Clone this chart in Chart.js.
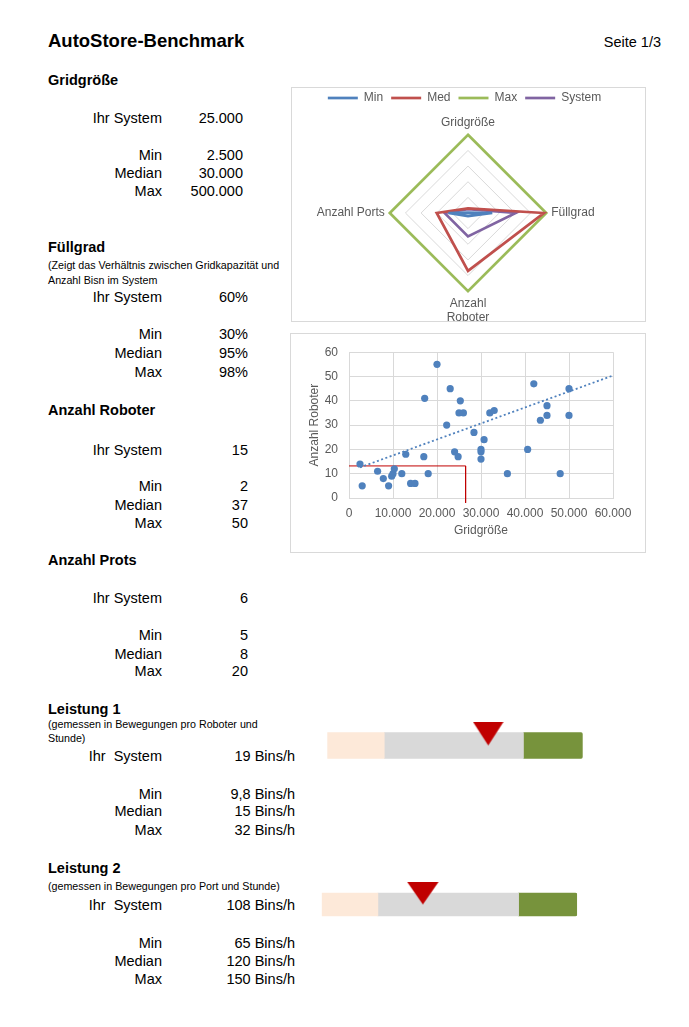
<!DOCTYPE html>
<html lang="de">
<head>
<meta charset="utf-8">
<title>AutoStore-Benchmark</title>
<script src="https://cdn.jsdelivr.net/npm/chart.js@4.4.1/dist/chart.umd.min.js"></script>
<style>
  html, body { margin: 0; padding: 0; background: #fff; }
  body { width: 689px; height: 1027px; position: relative; overflow: hidden;
         font-family: "Liberation Sans", Arial, sans-serif; color: #000; }
  .t { position: absolute; white-space: pre; font-size: 14.5px; line-height: 16px; }
  .h { font-weight: bold; left: 48px; }
  .s { font-size: 10.7px; line-height: 13px; left: 48px; }
  .l { left: 0; width: 162px; text-align: right; }
  .v1 { left: 170px; width: 73px; text-align: right; }
  .v2 { left: 170px; width: 78px; text-align: right; }
  .v3 { left: 170px; width: 125px; text-align: right; }
  .frame { position: absolute; border: 1px solid #d9d9d9; }
  canvas { position: absolute; display: block; }
</style>
</head>
<body>
<div class="t" style="left:48px;top:30px;font-size:18.5px;line-height:22px;font-weight:bold;">AutoStore-Benchmark</div>
<div class="t" style="right:28px;top:33.5px;">Seite 1/3</div>

<!-- Gridgröße -->
<div class="t h" style="top:71.5px;">Gridgröße</div>
<div class="t l" style="top:109.8px;">Ihr System</div><div class="t v1" style="top:109.8px;">25.000</div>
<div class="t l" style="top:146.5px;">Min</div><div class="t v1" style="top:146.5px;">2.500</div>
<div class="t l" style="top:164.8px;">Median</div><div class="t v1" style="top:164.8px;">30.000</div>
<div class="t l" style="top:183.2px;">Max</div><div class="t v1" style="top:183.2px;">500.000</div>

<!-- Füllgrad -->
<div class="t h" style="top:238.8px;">Füllgrad</div>
<div class="t s" style="top:259px;">(Zeigt das Verhältnis zwischen Gridkapazität und</div>
<div class="t s" style="top:273.7px;">Anzahl Bisn im System</div>
<div class="t l" style="top:289.2px;">Ihr System</div><div class="t v2" style="top:289.2px;">60%</div>
<div class="t l" style="top:325.8px;">Min</div><div class="t v2" style="top:325.8px;">30%</div>
<div class="t l" style="top:344.5px;">Median</div><div class="t v2" style="top:344.5px;">95%</div>
<div class="t l" style="top:364px;">Max</div><div class="t v2" style="top:364px;">98%</div>

<!-- Anzahl Roboter -->
<div class="t h" style="top:402.2px;">Anzahl Roboter</div>
<div class="t l" style="top:441.5px;">Ihr System</div><div class="t v2" style="top:441.5px;">15</div>
<div class="t l" style="top:477.5px;">Min</div><div class="t v2" style="top:477.5px;">2</div>
<div class="t l" style="top:496.5px;">Median</div><div class="t v2" style="top:496.5px;">37</div>
<div class="t l" style="top:514.8px;">Max</div><div class="t v2" style="top:514.8px;">50</div>

<!-- Anzahl Prots -->
<div class="t h" style="top:551.5px;">Anzahl Prots</div>
<div class="t l" style="top:589.8px;">Ihr System</div><div class="t v2" style="top:589.8px;">6</div>
<div class="t l" style="top:627.2px;">Min</div><div class="t v2" style="top:627.2px;">5</div>
<div class="t l" style="top:645.5px;">Median</div><div class="t v2" style="top:645.5px;">8</div>
<div class="t l" style="top:663.2px;">Max</div><div class="t v2" style="top:663.2px;">20</div>

<!-- Leistung 1 -->
<div class="t h" style="top:700.5px;">Leistung 1</div>
<div class="t s" style="top:718px;">(gemessen in Bewegungen pro Roboter und</div>
<div class="t s" style="top:732px;">Stunde)</div>
<div class="t l" style="top:747.5px;">Ihr  System</div><div class="t v3" style="top:747.5px;">19 Bins/h</div>
<div class="t l" style="top:785.5px;">Min</div><div class="t v3" style="top:785.5px;">9,8 Bins/h</div>
<div class="t l" style="top:803.2px;">Median</div><div class="t v3" style="top:803.2px;">15 Bins/h</div>
<div class="t l" style="top:821.5px;">Max</div><div class="t v3" style="top:821.5px;">32 Bins/h</div>

<!-- Leistung 2 -->
<div class="t h" style="top:859.8px;">Leistung 2</div>
<div class="t s" style="top:880.3px;">(gemessen in Bewegungen pro Port und Stunde)</div>
<div class="t l" style="top:897.2px;">Ihr  System</div><div class="t v3" style="top:897.2px;">108 Bins/h</div>
<div class="t l" style="top:934.8px;">Min</div><div class="t v3" style="top:934.8px;">65 Bins/h</div>
<div class="t l" style="top:952.5px;">Median</div><div class="t v3" style="top:952.5px;">120 Bins/h</div>
<div class="t l" style="top:970.8px;">Max</div><div class="t v3" style="top:970.8px;">150 Bins/h</div>

<div class="frame" style="left:291px;top:87px;width:353px;height:233px;"></div>
<div class="frame" style="left:290px;top:333px;width:354px;height:218px;"></div>

<canvas id="radarChart" width="353" height="249" style="left:288px;top:84px;"></canvas>
<canvas id="scatterChart" width="354" height="218" style="left:291px;top:334px;"></canvas>
<canvas id="perf1Chart" width="280" height="81" style="left:320px;top:705px;"></canvas>
<canvas id="perf2Chart" width="280" height="81" style="left:314px;top:864px;"></canvas>

<script>
// Radar: Werte je Achse relativ zum Maximum
const radarLabels = ['Gridgröße', 'Füllgrad', ['Anzahl', 'Roboter'], 'Anzahl Ports'];
const radarMin = [0.005, 0.31, 0.04, 0.25];
const radarMed = [0.06, 0.97, 0.74, 0.40];
const radarMax = [1, 1, 1, 1];
const radarSystem = [0.05, 0.61, 0.30, 0.30];

// Scatter: Gridgröße vs. Anzahl Roboter
const gridSizes = [2500, 3000, 6500, 7800, 9000, 9700, 10000, 10300, 12000, 12900,
  14000, 15000, 17000, 17200, 18000, 20000, 22200, 23000, 24000, 24800,
  25000, 25300, 26000, 28400, 30000, 30000, 30000, 30700, 32000, 33000,
  36000, 40600, 42000, 43500, 45000, 45000, 48000, 50000, 50000];
const robotCounts = [14, 5, 11, 8, 5, 9, 10, 12, 10, 18,
  6, 6, 17, 41, 10, 55, 30, 45, 19, 17,
  35, 40, 35, 27, 20, 19, 16, 24, 35, 36,
  10, 20, 47, 32, 38, 34, 10, 45, 34];
const trendX = [2500, 60000];
const trendY = [12.6, 50.4];
const systemLineX = [0, 26500, 26500];
const systemLineY = [13.2, 13.2, -2];

// Leistung: Bandbreiten (Anteile in %) und Markierung "Ihr System"
const perf1Bands = [22.3, 54.5, 23.2];
const perf1Marker = 63.0;
const perf2Bands = [22.0, 55.1, 22.9];
const perf2Marker = 39.6;

Chart.defaults.font.family = '"Liberation Sans", Arial, sans-serif';
Chart.defaults.color = '#595959';
Chart.defaults.animation = false;
Chart.defaults.plugins.tooltip.enabled = false;

const fmtThousands = v => String(v).replace(/\B(?=(\d{3})+(?!\d))/g, '.');

// Radar chart
new Chart(document.getElementById('radarChart'), {
  type: 'radar',
  data: {
    labels: radarLabels,
    datasets: [
      { label: 'Min', data: radarMin, borderColor: '#4f81bd' },
      { label: 'Med', data: radarMed, borderColor: '#c0504d' },
      { label: 'Max', data: radarMax, borderColor: '#9bbb59' },
      { label: 'System', data: radarSystem, borderColor: '#8064a2' }
    ].map(d => Object.assign(d, {
      backgroundColor: 'transparent', fill: false, borderWidth: 2.7,
      pointRadius: 0, borderJoinStyle: 'miter'
    }))
  },
  options: {
    responsive: false,
    plugins: {
      legend: {
        position: 'top',
        maxHeight: 25,
        labels: {
          usePointStyle: true, pointStyle: 'line', pointStyleWidth: 30,
          padding: 8, color: '#595959', font: { size: 12 }
        }
      }
    },
    scales: {
      r: {
        min: 0, max: 1,
        ticks: { display: false, stepSize: 0.2 },
        grid: { color: '#d9d9d9', lineWidth: 1 },
        angleLines: { display: false },
        pointLabels: { color: '#595959', font: { size: 12 }, padding: 5 }
      }
    }
  }
});

// Scatter chart
new Chart(document.getElementById('scatterChart'), {
  type: 'scatter',
  data: {
    datasets: [
      {
        label: 'Anzahl Roboter',
        data: gridSizes.map((x, i) => ({ x: x, y: robotCounts[i] })),
        backgroundColor: '#4f81bd', borderWidth: 0, pointRadius: 3.6
      },
      {
        type: 'line', label: 'Trend',
        data: trendX.map((x, i) => ({ x: x, y: trendY[i] })),
        borderColor: '#4f81bd', borderWidth: 1.8, borderDash: [2, 2.5],
        pointRadius: 0, fill: false
      },
      {
        type: 'line', label: 'Ihr System',
        data: systemLineX.map((x, i) => ({ x: x, y: systemLineY[i] })),
        borderColor: '#c00000', borderWidth: 1, pointRadius: 0, fill: false,
        clip: false
      }
    ]
  },
  options: {
    responsive: false,
    layout: { padding: { top: 13, right: 32, left: 0, bottom: 0 } },
    plugins: { legend: { display: false } },
    scales: {
      x: {
        type: 'linear', min: 0, max: 60000,
        ticks: { stepSize: 10000, padding: 8, font: { size: 12 }, callback: v => fmtThousands(v) },
        grid: { color: '#d9d9d9', drawTicks: false },
        border: { color: '#d9d9d9' },
        title: { display: true, text: 'Gridgröße', font: { size: 12 }, padding: { top: 0, bottom: 13.8 } },
        afterFit: s => { s.height = 54; }
      },
      y: {
        min: 0, max: 60,
        ticks: { stepSize: 10, padding: 11, font: { size: 12 } },
        grid: { color: '#d9d9d9', drawTicks: false },
        border: { color: '#d9d9d9' },
        title: { display: true, text: 'Anzahl Roboter', font: { size: 12 }, padding: { top: 16.8, bottom: 0 } },
        afterFit: s => { s.width = 58; }
      }
    }
  }
});

// Dreieck-Markierung als Punktstil
function makeTriangle(w, h) {
  const c = document.createElement('canvas');
  c.width = w;
  c.height = h * 2;
  const g = c.getContext('2d');
  g.fillStyle = '#c00000';
  g.beginPath();
  g.moveTo(0, 0);
  g.lineTo(w, 0);
  g.lineTo(w / 2, h);
  g.closePath();
  g.fill();
  return c;
}

function perfChart(id, label, bands, marker, thickness, triW, triH, padL) {
  new Chart(document.getElementById(id), {
    type: 'bar',
    data: {
      labels: [label],
      datasets: [
        {
          type: 'scatter', label: 'Ihr System', order: 0,
          data: [{ x: marker, y: label }],
          pointStyle: makeTriangle(triW, triH), clip: false
        },
        { label: 'unter Min', data: [bands[0]], backgroundColor: '#fde9d9', order: 1 },
        { label: 'Min - Max', data: [bands[1]], backgroundColor: '#d9d9d9', order: 1 },
        { label: 'über Max', data: [bands[2]], backgroundColor: '#77933c', borderRadius: 2, order: 1 }
      ]
    },
    options: {
      responsive: false,
      indexAxis: 'y',
      datasets: { bar: { barThickness: thickness, borderWidth: 0 } },
      layout: { padding: { left: padL, right: 280 - padL - 255.4, top: 0, bottom: 0 } },
      plugins: { legend: { display: false } },
      scales: {
        x: { display: false, min: 0, max: 100, stacked: true },
        y: { display: false, stacked: true }
      }
    }
  });
}

perfChart('perf1Chart', 'Leistung 1', perf1Bands, perf1Marker, 25.6, 31, 24, 7.3);
perfChart('perf2Chart', 'Leistung 2', perf2Bands, perf2Marker, 23, 32, 23, 7.7);
</script>
</body>
</html>
